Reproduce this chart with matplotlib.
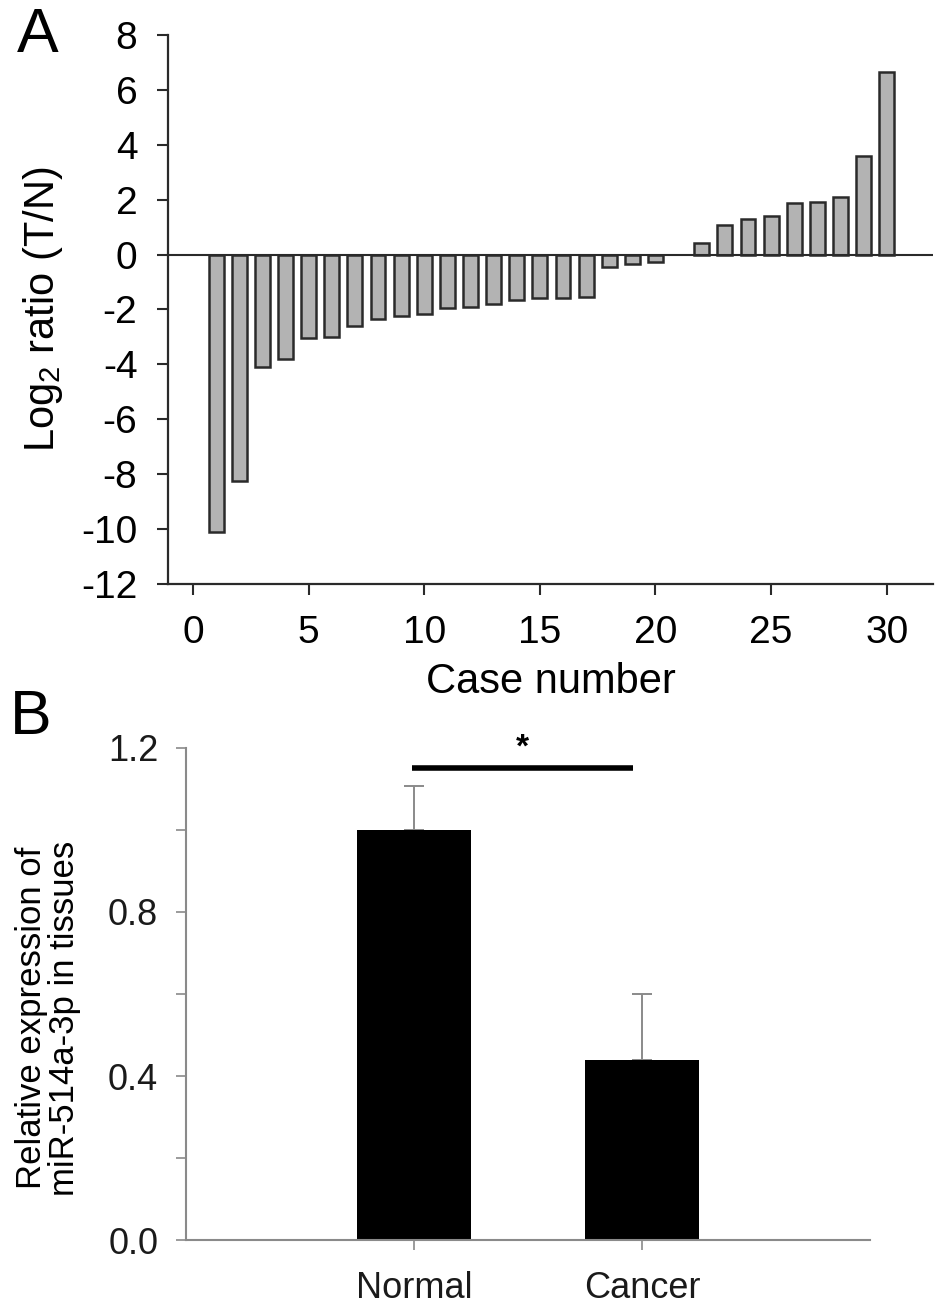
import matplotlib
matplotlib.use("Agg")
import matplotlib.pyplot as plt
from matplotlib.ticker import MultipleLocator, FormatStrFormatter

plt.rcParams['font.family'] = ['Liberation Sans', 'DejaVu Sans']
plt.rcParams['axes.unicode_minus'] = False
plt.rcParams['mathtext.fontset'] = 'custom'
plt.rcParams['mathtext.rm'] = 'Liberation Sans'

# panel A data
cases = list(range(1, 31))
log2_ratio = [-10.1, -8.25, -4.1, -3.8, -3.05, -3.0, -2.6, -2.35, -2.25, -2.15,
              -1.95, -1.9, -1.8, -1.65, -1.58, -1.58, -1.53, -0.45, -0.35, -0.27,
              0.0, 0.41, 1.09, 1.31, 1.40, 1.87, 1.91, 2.10, 3.60, 6.65]
a_yticks = [8, 6, 4, 2, 0, -2, -4, -6, -8, -10, -12]
a_xticks = [0, 5, 10, 15, 20, 25, 30]

# panel B data
groups = ["Normal", "Cancer"]
rel_expr = [1.0, 0.44]
rel_err = [0.107, 0.16]
sig_y = 1.151

W, H = 945, 1312
fig = plt.figure(figsize=(W / 100, H / 100), dpi=100)

def frac(x0, y0, x1, y1):
    return [x0 / W, 1 - y1 / H, (x1 - x0) / W, (y1 - y0) / H]

dark = "#2a2a2a"
grey = "#8a8a8a"

# ---- panel A
ax1 = fig.add_axes(frac(168, 35, 933, 584))
edge_w = [1.8 if v != 0 else 0 for v in log2_ratio]  # empty case has no outline
ax1.bar(cases, log2_ratio, width=0.64, color="#b3b3b3", edgecolor=dark, linewidth=edge_w, zorder=2)
ax1.axhline(0, color=dark, lw=1.5, zorder=3)
ax1.set_xlim(-1.08, 32.0)
ax1.set_ylim(-12, 8)
ax1.set_yticks(a_yticks)
ax1.set_xticks(a_xticks)
for s in ["top", "right"]:
    ax1.spines[s].set_visible(False)
for s in ["left", "bottom"]:
    ax1.spines[s].set_color(dark)
    ax1.spines[s].set_linewidth(1.6)
ax1.tick_params(axis="both", direction="out", length=8, width=1.5, color=dark,
                labelsize=28)
ax1.tick_params(axis="y", pad=14)
ax1.tick_params(axis="x", pad=14)
ax1.set_xlabel("Case number", fontsize=30, labelpad=8)
ax1.set_ylabel(r"Log$_2$ ratio (T/N)", fontsize=30)
ax1.yaxis.set_label_coords(-0.135, 0.5)
fig.text(17 / W, 1 - 36 / H, "A", fontsize=45, ha="left", va="center")

# ---- panel B
ax2 = fig.add_axes(frac(186, 748, 870, 1240))
xpos = [1, 2]
ax2.bar(xpos, rel_expr, width=0.5, color="black", zorder=2)
ax2.errorbar(xpos, rel_expr, yerr=[[0, 0], rel_err], fmt="none", ecolor=grey,
             elinewidth=1.4, capsize=7, capthick=1.4, zorder=1)
ax2.plot([0.99, 1.96], [sig_y, sig_y], color="black", lw=4, solid_capstyle="butt")
ax2.text(1.475, sig_y + 0.012, "*", ha="center", va="bottom", fontsize=24, fontweight="bold")
ax2.set_xlim(0, 3)
ax2.set_ylim(0, 1.2)
ax2.set_xticks(xpos)
ax2.set_xticklabels(groups)
ax2.yaxis.set_major_locator(MultipleLocator(0.4))
ax2.yaxis.set_minor_locator(MultipleLocator(0.2))
ax2.yaxis.set_major_formatter(FormatStrFormatter("%.1f"))
for s in ["top", "right"]:
    ax2.spines[s].set_visible(False)
for s in ["left", "bottom"]:
    ax2.spines[s].set_color(grey)
    ax2.spines[s].set_linewidth(1.5)
ax2.tick_params(axis="both", which="both", direction="out", length=7, width=1.2,
                color=grey, labelsize=26, labelcolor="#1a1a1a")
ax2.tick_params(axis="y", pad=13)
ax2.tick_params(axis="x", pad=15)
fig.text(48 / W, 1 - 1018 / H, "Relative expression of\nmiR-514a-3p in tissues",
         rotation=90, ha="center", va="center", fontsize=25, linespacing=1.0)
fig.text(10 / W, 1 - 718 / H, "B", fontsize=45, ha="left", va="center")

fig.savefig("out.png", dpi=100)
